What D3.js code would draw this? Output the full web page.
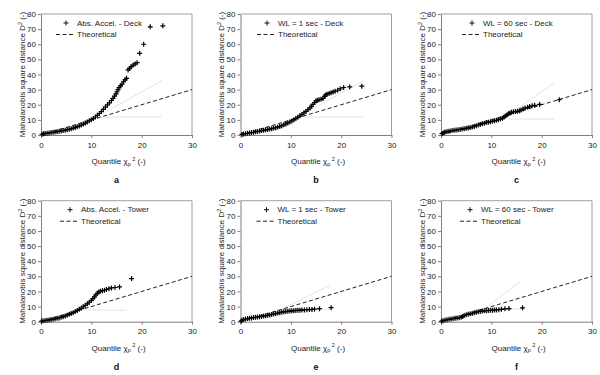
<!DOCTYPE html>
<html>
<head>
<meta charset="utf-8">
<script src="https://cdn.jsdelivr.net/npm/d3@7"></script>
<style>
  body { margin: 0; background: #fff; }
  svg { display: block; font-family: "Liberation Sans", Arial, sans-serif; }
</style>
</head>
<body>
<svg id="chart" width="600" height="375"></svg>
<script>
// Q-Q plots: Mahalanobis square distance vs chi-square quantile, six cases

const panelLetters = ['a', 'b', 'c', 'd', 'e', 'f'];
const seriesNames = [
  'Abs. Accel. - Deck', 'WL = 1 sec - Deck', 'WL = 60 sec - Deck',
  'Abs. Accel. - Tower', 'WL = 1 sec - Tower', 'WL = 60 sec - Tower'
];
const xTicks = [0, 10, 20, 30];
const yTicks = [0, 10, 20, 30, 40, 50, 60, 70, 80];
const theoretical = [[0, 0], [30, 30]];

// [chi2 quantile, D^2]
const absDeck = [[0.2,0.5],[0.5,0.8],[0.8,1.0],[1.2,1.2],[1.6,1.4],[2.0,1.6],[2.4,1.8],[2.8,2.0],[3.2,2.2],[3.6,2.4],
  [4.0,2.7],[4.4,2.9],[4.8,3.2],[5.2,3.5],[5.6,3.8],[6.0,4.2],[6.4,4.6],[6.8,5.0],[7.2,5.5],[7.6,6.0],
  [8.0,6.6],[8.4,7.2],[8.8,7.9],[9.2,8.6],[9.6,9.4],[10.0,10.1],[10.4,10.9],[10.8,11.9],[11.2,13.0],[11.6,14.2],
  [12.0,15.5],[12.4,17.0],[12.8,18.4],[13.2,19.9],[13.6,21.3],[14.0,22.8],[14.3,24.2],[14.6,25.7],[14.9,27.2],[15.1,28.6],
  [15.3,30.0],[15.5,31.3],[15.8,32.5],[16.1,33.6],[16.4,35.2],[16.7,36.5],[17.0,37.5],[17.3,43.0],[17.6,44.0],[17.9,45.2],
  [18.3,46.2],[18.7,47.0],[19.1,47.8],[19.6,54.0],[20.4,60.0],[21.7,71.5],[24.2,72.2]];
const wl1Deck = [[0.3,0.4],[0.6,0.7],[1.0,0.9],[1.4,1.1],[1.8,1.4],[2.2,1.6],[2.6,1.8],[3.0,2.1],[3.4,2.3],[3.8,2.6],
  [4.2,2.9],[4.6,3.1],[5.0,3.4],[5.4,3.6],[5.8,3.9],[6.2,4.2],[6.6,4.5],[7.0,4.8],[7.4,5.2],[7.8,5.6],
  [8.2,6.1],[8.6,6.7],[9.0,7.3],[9.4,8.0],[9.8,8.6],[10.2,9.3],[10.6,10.1],[11.0,10.9],[11.4,11.8],[11.8,12.7],
  [12.2,13.6],[12.6,14.6],[13.0,15.6],[13.4,16.8],[13.8,18.0],[14.1,19.0],[14.4,20.2],[14.7,21.5],[15.0,22.5],[15.3,23.0],
  [15.6,23.3],[16.0,23.6],[16.4,24.2],[16.7,25.5],[16.9,26.5],[17.2,27.0],[17.6,27.5],[18.0,28.0],[18.4,28.5],[18.8,29.0],
  [19.3,29.6],[19.8,30.5],[20.5,31.4],[21.7,31.8],[24.1,32.3]];
const wl60Deck = [[0.2,0.9],[0.4,1.4],[0.7,1.8],[1.0,2.1],[1.4,2.4],[1.8,2.7],[2.2,2.9],[2.6,3.1],[3.0,3.3],[3.4,3.5],
  [3.8,3.7],[4.2,3.9],[4.6,4.1],[5.0,4.4],[5.4,4.6],[5.8,4.9],[6.2,5.3],[6.6,5.7],[7.0,6.1],[7.4,6.6],
  [7.8,7.0],[8.2,7.4],[8.6,7.8],[9.0,8.2],[9.4,8.5],[9.8,8.8],[10.2,9.1],[10.6,9.4],[11.0,9.7],[11.4,10.1],
  [11.8,10.5],[12.2,11.1],[12.5,11.8],[12.8,12.5],[13.1,13.3],[13.4,14.0],[13.7,14.6],[14.0,15.0],[14.4,15.3],[14.8,15.5],
  [15.2,15.7],[15.6,16.0],[15.9,16.6],[16.3,17.2],[16.7,17.8],[17.2,18.3],[17.6,18.8],[18.1,19.3],[18.6,19.6],[19.6,20.2],
  [23.5,23.3]];
const absTower = [[0.1,0.3],[0.4,0.6],[0.8,0.8],[1.2,1.0],[1.6,1.2],[2.0,1.4],[2.4,1.7],[2.8,1.9],[3.2,2.2],[3.6,2.5],
  [4.0,2.9],[4.4,3.3],[4.8,3.8],[5.2,4.3],[5.6,4.9],[6.0,5.5],[6.4,6.0],[6.8,6.7],[7.2,7.4],[7.6,8.2],
  [8.0,9.0],[8.4,9.9],[8.8,10.8],[9.2,11.8],[9.6,12.9],[10.0,14.0],[10.3,15.2],[10.6,16.4],[10.9,17.7],[11.2,18.8],
  [11.5,19.7],[11.8,20.2],[12.2,20.5],[12.6,20.8],[13.0,21.3],[13.5,21.8],[14.0,22.3],[14.7,22.6],[15.6,23.0],[18.0,28.5]];
const wl1Tower = [[0.1,0.3],[0.3,0.9],[0.6,1.4],[1.0,1.8],[1.4,2.1],[1.8,2.3],[2.2,2.5],[2.6,2.7],[3.0,2.9],[3.4,3.1],
  [3.8,3.3],[4.2,3.5],[4.6,3.7],[5.0,3.9],[5.4,4.2],[5.8,4.5],[6.2,4.8],[6.6,5.1],[7.0,5.4],[7.4,5.7],
  [7.8,6.0],[8.2,6.3],[8.6,6.5],[9.0,6.7],[9.4,6.9],[9.8,7.0],[10.2,7.2],[10.6,7.3],[11.0,7.4],[11.4,7.5],
  [11.8,7.6],[12.2,7.7],[12.7,7.8],[13.2,7.9],[13.7,8.0],[14.2,8.1],[14.7,8.3],[15.7,8.6],[18.0,9.3]];
const wl60Tower = [[0.1,0.3],[0.4,0.7],[0.8,1.1],[1.2,1.3],[1.6,1.6],[2.0,1.8],[2.4,2.0],[2.8,2.2],[3.2,2.4],[3.6,2.6],
  [4.0,2.9],[4.3,3.4],[4.6,4.1],[5.0,4.6],[5.4,4.9],[5.8,5.2],[6.2,5.5],[6.6,5.9],[7.0,6.3],[7.4,6.6],
  [7.8,6.8],[8.2,7.0],[8.6,7.2],[9.0,7.3],[9.4,7.4],[9.8,7.5],[10.2,7.6],[10.6,7.7],[11.0,7.8],[11.5,7.9],
  [12.0,8.2],[12.7,8.5],[13.5,8.7],[16.2,9.2]];
const seriesData = [absDeck, wl1Deck, wl60Deck, absTower, wl1Tower, wl60Tower];

// faint grey guide lines seen in the original, [x1, y1, x2, y2]
const guideLines = [
  [[10.3, 10.5, 24, 36], [10.3, 11.9, 24, 11.9]],
  [[10.5, 10.2, 24.5, 36], [12.5, 11.9, 24.3, 11.9]],
  [[13.5, 13.5, 22.5, 34.5], [13.5, 10.5, 22.5, 10.5]],
  [[7.5, 7.7, 17, 7.7]],
  [[8, 8, 17.8, 24], [8, 8, 17.8, 8]],
  [[8.4, 7.8, 15.7, 26.5], [8.4, 8.3, 16, 8.3]]
];

// layout
const plotLefts = [41, 240.5, 441];
const plotTops = [14, 200.7];
const plotW = 151, plotH = 121;
const legendDx = [25, 26.5, 31, 29, 26, 29];

const svg = d3.select('#chart');
const plusPath = 'M-2.5,0H2.5M0,-2.5V2.5';

seriesData.forEach((pts, i) => {
  const col = i % 3, row = Math.floor(i / 3);
  const g = svg.append('g')
    .attr('transform', `translate(${plotLefts[col]},${plotTops[row]})`);

  const x = d3.scaleLinear().domain([0, 30]).range([0, plotW]);
  const y = d3.scaleLinear().domain([0, 80]).range([plotH, 0]);

  // frame (top and right)
  g.append('path')
    .attr('d', `M0,0H${plotW}V${plotH}`)
    .attr('fill', 'none')
    .attr('stroke', '#a0a0a0')
    .attr('stroke-width', 1);

  // faint guides
  g.selectAll('.guide')
    .data(guideLines[i])
    .enter().append('line')
      .attr('x1', d => x(d[0])).attr('y1', d => y(d[1]))
      .attr('x2', d => x(d[2])).attr('y2', d => y(d[3]))
      .attr('stroke', '#e4e4e4')
      .attr('stroke-width', 1);

  // axes
  const xAxis = g.append('g')
    .attr('transform', `translate(0,${plotH})`)
    .call(d3.axisBottom(x).tickValues(xTicks).tickSize(3).tickSizeOuter(0));
  const yAxis = g.append('g')
    .call(d3.axisLeft(y).tickValues(yTicks).tickSize(3).tickSizeOuter(0));
  [xAxis, yAxis].forEach(ax => {
    ax.select('.domain').attr('stroke', '#808080');
    ax.selectAll('.tick line').attr('stroke', '#808080');
    ax.selectAll('.tick text')
      .attr('fill', '#222')
      .style('font-size', '8px')
      .style('font-family', '"Liberation Sans", Arial, sans-serif');
  });
  xAxis.selectAll('.tick text').attr('y', 7);
  yAxis.selectAll('.tick text').attr('x', -5);

  // theoretical line
  g.append('path')
    .datum(theoretical)
    .attr('d', d3.line().x(d => x(d[0])).y(d => y(d[1])))
    .attr('fill', 'none')
    .attr('stroke', '#222')
    .attr('stroke-width', 1)
    .attr('stroke-dasharray', '4,2.5');

  // points
  g.selectAll('.pt')
    .data(pts)
    .enter().append('path')
      .attr('class', 'pt')
      .attr('transform', d => `translate(${x(d[0])},${y(d[1])})`)
      .attr('d', plusPath)
      .attr('stroke', '#000')
      .attr('stroke-width', 1.2)
      .attr('fill', 'none');

  // legend
  const lx = legendDx[i];
  g.append('path')
    .attr('transform', `translate(${lx},9)`)
    .attr('d', plusPath)
    .attr('stroke', '#111');
  g.append('text')
    .attr('x', lx + 11).attr('y', 9).attr('dy', '0.35em')
    .style('font-size', '8px').attr('fill', '#222')
    .text(seriesNames[i]);
  g.append('line')
    .attr('x1', lx - 10).attr('x2', lx + 7)
    .attr('y1', 20.5).attr('y2', 20.5)
    .attr('stroke', '#222')
    .attr('stroke-dasharray', '4,2.5');
  g.append('text')
    .attr('x', lx + 11).attr('y', 20.5).attr('dy', '0.35em')
    .style('font-size', '8px').attr('fill', '#222')
    .text('Theoretical');

  // x title
  const xt = g.append('text')
    .attr('x', plotW / 2 + 2).attr('y', plotH + 29)
    .attr('text-anchor', 'middle')
    .style('font-size', '8px').attr('fill', '#222');
  xt.append('tspan').text('Quantile \u03c7');
  xt.append('tspan').attr('dy', 1.5).style('font-size', '5.5px').text('p');
  xt.append('tspan').attr('dy', -5).style('font-size', '5.5px').text(' 2');
  xt.append('tspan').attr('dy', 3.5).text(' (-)');

  // y title
  const yt = g.append('text')
    .attr('transform', `translate(-19,${plotH / 2}) rotate(-90)`)
    .attr('text-anchor', 'middle')
    .attr('dy', '0.35em')
    .style('font-size', '8px').attr('fill', '#222');
  yt.append('tspan').text('Mahalanobis square distance D');
  yt.append('tspan').attr('dy', -3).style('font-size', '5.5px').text('2');
  yt.append('tspan').attr('dy', 3).text(' (-)');

  // panel letter
  g.append('text')
    .attr('x', plotW / 2).attr('y', plotH + 45).attr('dy', '0.35em')
    .attr('text-anchor', 'middle')
    .style('font-size', '9px').style('font-weight', 'bold').attr('fill', '#111')
    .text(panelLetters[i]);
});
</script>
</body>
</html>
